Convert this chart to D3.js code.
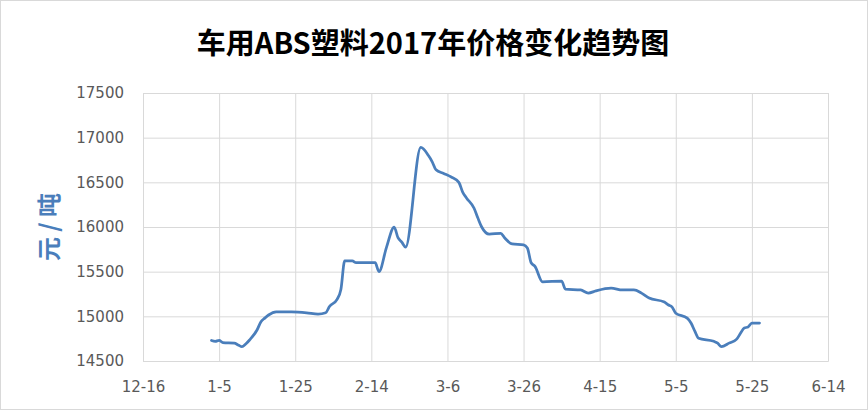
<!DOCTYPE html>
<html>
<head>
<meta charset="utf-8">
<script src="https://cdn.jsdelivr.net/npm/d3@7"></script>
<style>
  body { margin: 0; background: #fff; }
  svg { display: block; }
</style>
</head>
<body>
<svg id="chart" width="868" height="410"></svg>
<script>
// price points (date, yuan per ton)
const dates = [
  "2017-01-03","2017-01-04","2017-01-05","2017-01-06","2017-01-09","2017-01-10","2017-01-11","2017-01-12",
  "2017-01-13","2017-01-15","2017-01-16","2017-01-17","2017-01-18","2017-01-20","2017-01-24","2017-01-28",
  "2017-01-31","2017-02-02","2017-02-03","2017-02-05","2017-02-06","2017-02-07","2017-02-09","2017-02-10",
  "2017-02-15","2017-02-16","2017-02-18","2017-02-20","2017-02-21","2017-02-22","2017-02-23","2017-02-27",
  "2017-03-01","2017-03-02","2017-03-03","2017-03-05","2017-03-07","2017-03-09","2017-03-10","2017-03-11",
  "2017-03-13","2017-03-14","2017-03-15","2017-03-17","2017-03-20","2017-03-21","2017-03-23","2017-03-26",
  "2017-03-27","2017-03-28","2017-03-29","2017-03-31","2017-04-05","2017-04-06","2017-04-10","2017-04-12",
  "2017-04-14","2017-04-18","2017-04-21","2017-04-24","2017-04-26","2017-04-28","2017-05-02","2017-05-03",
  "2017-05-04","2017-05-05","2017-05-08","2017-05-09","2017-05-10","2017-05-11","2017-05-15","2017-05-16",
  "2017-05-17","2017-05-19","2017-05-21","2017-05-22","2017-05-23","2017-05-24","2017-05-25","2017-05-27"
];
const prices = [
  14730,14720,14730,14705,14700,14680,14660,14690,
  14735,14850,14940,14980,15015,15050,15050,15040,
  15025,15040,15110,15190,15300,15620,15620,15600,
  15600,15500,15775,16000,15880,15830,15775,16890,
  16800,16730,16640,16600,16560,16500,16390,16325,
  16210,16100,16000,15920,15930,15880,15810,15800,
  15765,15600,15560,15385,15395,15305,15295,15260,
  15285,15315,15295,15295,15260,15205,15160,15130,
  15105,15035,14980,14925,14835,14755,14720,14700,
  14660,14700,14745,14810,14870,14880,14925,14925
];
const xTicks = ["2016-12-16","2017-01-05","2017-01-25","2017-02-14","2017-03-06","2017-03-26","2017-04-15","2017-05-05","2017-05-25","2017-06-14"];
const yTicks = [14500,15000,15500,16000,16500,17000,17500];

const title = "车用ABS塑料2017年价格变化趋势图";
const yTitle = "元 / 吨";

const parse = d3.timeParse("%Y-%m-%d");
const data = dates.map((d, i) => ({ date: parse(d), value: prices[i] }));

const svg = d3.select("#chart");
const W = 868, H = 410;
const margin = { top: 93, right: 40, bottom: 49, left: 143 };

// outer frame
svg.append("rect")
  .attr("x", 0.5).attr("y", 0.5)
  .attr("width", W - 1).attr("height", H - 1)
  .attr("fill", "#fff").attr("stroke", "#d9d9d9");

const x = d3.scaleTime()
  .domain([parse(xTicks[0]), parse(xTicks[xTicks.length - 1])])
  .range([margin.left, W - margin.right]);
const y = d3.scaleLinear()
  .domain([yTicks[0], yTicks[yTicks.length - 1]])
  .range([H - margin.bottom, margin.top]);

// horizontal grid + left labels
const yAxis = d3.axisLeft(y).tickValues(yTicks).tickSize(-(W - margin.right - margin.left)).tickPadding(19).tickFormat(d3.format("d"));
const gy = svg.append("g").attr("transform", `translate(${margin.left},0)`).call(yAxis);
gy.select(".domain").attr("stroke", "#d9d9d9");
gy.selectAll(".tick line").attr("stroke", "#d9d9d9");
gy.selectAll("text").attr("fill", "#595959").style("font-family", "DejaVu Sans").style("font-size", "15px");

// vertical grid + bottom labels
const xAxis = d3.axisBottom(x).tickValues(xTicks.map(parse)).tickSize(-(H - margin.bottom - margin.top)).tickPadding(20).tickFormat(d3.timeFormat("%-m-%-d"));
const gx = svg.append("g").attr("transform", `translate(0,${H - margin.bottom})`).call(xAxis);
gx.select(".domain").attr("stroke", "#d9d9d9");
gx.selectAll(".tick line").attr("stroke", "#d9d9d9");
gx.selectAll("text").attr("fill", "#595959").style("font-family", "DejaVu Sans").style("font-size", "15px");

// price line
const line = d3.line()
  .x(d => x(d.date))
  .y(d => y(d.value))
  .curve(d3.curveMonotoneX);

svg.append("path")
  .datum(data)
  .attr("fill", "none")
  .attr("stroke", "#4a7ebb")
  .attr("stroke-width", 2.75)
  .attr("stroke-linejoin", "round")
  .attr("stroke-linecap", "round")
  .attr("d", line);

// titles
svg.append("text")
  .attr("x", 433).attr("y", 54)
  .attr("text-anchor", "middle")
  .style("font-family", "Noto Sans CJK SC")
  .style("font-weight", "bold")
  .style("font-size", "29px")
  .attr("fill", "#000")
  .text(title);

svg.append("text")
  .attr("transform", "translate(58,227) rotate(-90)")
  .attr("text-anchor", "middle")
  .style("font-family", "Noto Sans CJK SC")
  .style("font-weight", "bold")
  .style("font-size", "24px")
  .attr("fill", "#4a7ebb")
  .text(yTitle);
</script>
</body>
</html>
